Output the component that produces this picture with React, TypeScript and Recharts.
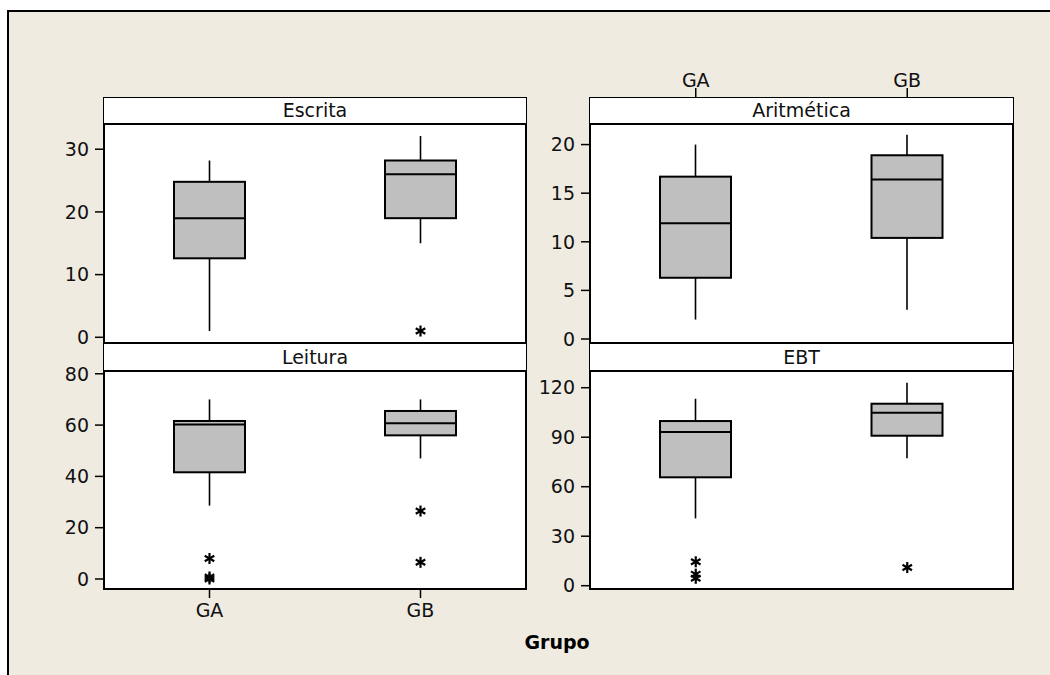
import { ComposedChart, Bar, Scatter, XAxis, YAxis } from 'recharts';

const groups = ['GA', 'GB'];

// per group: min whisker, Q1, median, Q3, max whisker
const escritaBox = [[1, 12.6, 19, 24.8, 28.2], [15, 19, 26, 28.2, 32.1]];
const escritaOut = [[], [1]];
const aritBox = [[2, 6.3, 11.9, 16.7, 20], [3, 10.4, 16.4, 18.9, 21]];
const aritOut = [[], []];
const leituraBox = [[28.6, 41.6, 60.2, 61.6, 70], [47, 56, 60.7, 65.5, 70]];
const leituraOut = [[8, 0.8, 0], [26.5, 6.5]];
const ebtBox = [[40.8, 65.7, 93.2, 99.8, 113.3], [77.2, 90.9, 104.8, 110.3, 123]];
const ebtOut = [[14.5, 7, 4.5], [11]];

const escritaTicks = [0, 10, 20, 30];
const aritTicks = [0, 5, 10, 15, 20];
const leituraTicks = [0, 20, 40, 60, 80];
const ebtTicks = [0, 30, 60, 90, 120];

const FONT = '"DejaVu Sans", Verdana, sans-serif';
const BG = '#EFEBE1';
const YW = 60;

function rows(box: number[][], out: number[][]) {
  return groups.map((g, i) => ({
    g,
    box: box[i],
    o1: out[i][0] ?? null,
    o2: out[i][1] ?? null,
    o3: out[i][2] ?? null,
  }));
}

function BoxShape(props: any) {
  const { x, y, width, height, payload } = props;
  const [mn, q1, md, q3, mx] = payload.box;
  const top = Math.min(y, y + height);
  const h = Math.abs(height);
  const py = (v: number) => top + (h * (mx - v)) / (mx - mn);
  const cx = x + width / 2;
  return (
    <g>
      <line x1={cx} x2={cx} y1={py(mx)} y2={py(q3)} stroke="#000" strokeWidth={1.6} />
      <line x1={cx} x2={cx} y1={py(q1)} y2={py(mn)} stroke="#000" strokeWidth={1.6} />
      <rect x={x} y={py(q3)} width={width} height={py(q1) - py(q3)} fill="#BFBFBF" stroke="#000" strokeWidth={2} />
      <line x1={x} x2={x + width} y1={py(md)} y2={py(md)} stroke="#000" strokeWidth={2} />
    </g>
  );
}

function Star(props: any) {
  const { cx, cy } = props;
  if (!Number.isFinite(cx) || !Number.isFinite(cy)) return <g />;
  const r = 5.5;
  const dx = r * Math.cos(Math.PI / 6);
  const dy = r * Math.sin(Math.PI / 6);
  return (
    <g stroke="#000" strokeWidth={2.2}>
      <line x1={cx} x2={cx} y1={cy - r} y2={cy + r} />
      <line x1={cx - dx} x2={cx + dx} y1={cy - dy} y2={cy + dy} />
      <line x1={cx - dx} x2={cx + dx} y1={cy + dy} y2={cy - dy} />
    </g>
  );
}

interface PanelProps {
  left: number; top: number; width: number; height: number;
  stripH: number; stripPad: number; title: string;
  box: number[][]; out: number[][]; ticks: number[]; domain: [number, number];
  axis: 'none' | 'top' | 'bottom';
}

const tickStyle = { fontSize: 19, fill: '#111', fontFamily: FONT };

function Panel(p: PanelProps) {
  const data = rows(p.box, p.out);
  const axisH = p.axis === 'top' ? 30 : p.axis === 'bottom' ? 40 : 0;
  const padB = p.axis === 'bottom' ? 0 : 14;
  const chartTop = p.axis === 'top' ? p.top - axisH : p.top;
  return (
    <>
      <div style={{
        position: 'absolute', left: p.left - 1, top: p.top - 1, width: p.width + 2, height: p.height + 2,
        border: '2px solid #000', background: '#fff', boxSizing: 'border-box',
      }} />
      <div style={{ position: 'absolute', left: p.left - YW, top: chartTop }}>
        <ComposedChart
          width={YW + p.width}
          height={p.height + axisH + padB}
          data={data}
          margin={{ top: 0, right: 0, bottom: padB, left: 0 }}
        >
          <XAxis
            dataKey="g"
            hide={p.axis === 'none'}
            orientation={p.axis === 'top' ? 'top' : 'bottom'}
            height={axisH || 1}
            axisLine={false}
            interval={0}
            tickSize={p.axis === 'top' ? 10 : 9}
            tickMargin={p.axis === 'top' ? 1 : 6}
            tickLine={{ stroke: '#000', strokeWidth: 1.5 }}
            tick={tickStyle}
          />
          <YAxis
            type="number"
            width={YW}
            domain={p.domain}
            ticks={p.ticks}
            interval={0}
            allowDataOverflow
            axisLine={false}
            tickSize={9}
            tickMargin={6}
            tickLine={{ stroke: '#000', strokeWidth: 1.5 }}
            tick={tickStyle}
          />
          <Bar dataKey={(d: any) => [d.box[0], d.box[4]]} barSize={71} shape={BoxShape} isAnimationActive={false} />
          <Scatter dataKey="o1" shape={Star} isAnimationActive={false} />
          <Scatter dataKey="o2" shape={Star} isAnimationActive={false} />
          <Scatter dataKey="o3" shape={Star} isAnimationActive={false} />
        </ComposedChart>
      </div>
      <div style={{
        position: 'absolute', left: p.left, top: p.top, width: p.width, height: p.stripH,
        background: '#fff', borderBottom: '2px solid #000', boxSizing: 'border-box',
        fontFamily: FONT, fontSize: 19, color: '#111', textAlign: 'center',
        lineHeight: '20px', paddingTop: p.stripPad,
      }}>
        {p.title}
      </div>
    </>
  );
}

export default function App() {
  return (
    <div style={{ position: 'absolute', left: 0, top: 0, width: 1050, height: 675, overflow: 'hidden', background: '#fff' }}>
      <div style={{
        position: 'absolute', left: 7, top: 10, width: 1100, height: 700,
        border: '2px solid #000', background: BG,
      }} />
      <Panel left={590} top={343} width={423} height={246} stripH={29} stripPad={4}
        title="EBT" box={ebtBox} out={ebtOut} ticks={ebtTicks} domain={[-2.0, 147.1]} axis="none" />
      <Panel left={104} top={343} width={422} height={246} stripH={29} stripPad={4}
        title="Leitura" box={leituraBox} out={leituraOut} ticks={leituraTicks} domain={[-3.9, 92.0]} axis="bottom" />
      <Panel left={104} top={98} width={422} height={245} stripH={27} stripPad={2}
        title="Escrita" box={escritaBox} out={escritaOut} ticks={escritaTicks} domain={[-0.91, 38.17]} axis="none" />
      <Panel left={590} top={98} width={423} height={245} stripH={27} stripPad={2}
        title="Aritmética" box={aritBox} out={aritOut} ticks={aritTicks} domain={[-0.41, 24.79]} axis="top" />
      <div style={{
        position: 'absolute', left: 457, top: 633, width: 200, textAlign: 'center',
        fontFamily: FONT, fontWeight: 'bold', fontSize: 19, lineHeight: 1, color: '#000',
      }}>
        Grupo
      </div>
    </div>
  );
}
